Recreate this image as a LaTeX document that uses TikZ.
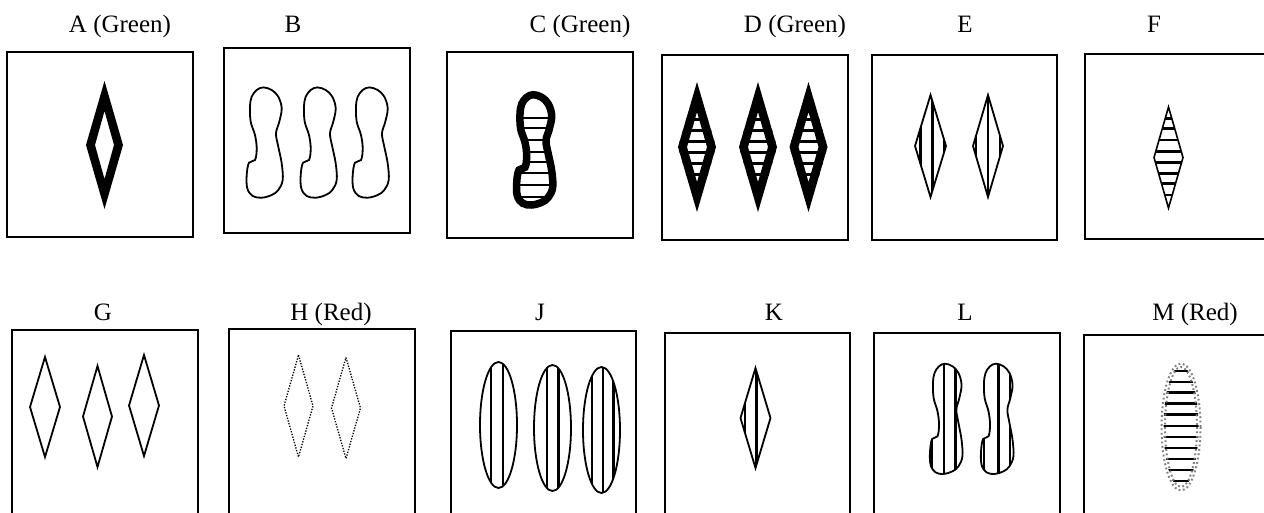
\documentclass[tikz,border=0pt]{standalone}
\usepackage{fontspec}
\setmainfont{Liberation Serif}

% rhombus: centre x, centre y, half width, half height
\newcommand{\rhombpath}[4]{({#1},{(#2)-(#4)}) -- ({(#1)+(#3)},{#2}) -- ({#1},{(#2)+(#4)}) -- ({(#1)-(#3)},{#2}) -- cycle}
% peanut-shaped cell outline, centred on the origin
\newcommand{\cellpts}{(-1.7,-55.3) (6.7,-52.7) (13.3,-46) (16.7,-34.3) (14.3,-21) (11,-9.3) (13.3,4) (16.7,20.7) (17.7,37.3) (13.3,47.3) (6.7,52.3) (-3.3,55) (-12.3,53.3) (-17.7,45.7) (-18.3,32.3) (-16,20) (-10,17.3) (-8.3,5.7) (-10,-7.7) (-14.3,-21) (-15,-36) (-13.3,-46) (-8.3,-52.7)}
\newcommand{\celldraw}[1]{\draw[#1] plot[smooth cycle, tension=0.6] coordinates {\cellpts};}
\newcommand{\cellclip}{\clip plot[smooth cycle, tension=0.6] coordinates {\cellpts};}

\begin{document}
\begin{tikzpicture}[x=1pt,y=-1pt,
  panel/.style={draw=black, line width=1.8pt},
  caption/.style={anchor=base, inner sep=0pt, font=\fontsize{25}{30}\selectfont},
  outline/.style={draw=black, line width=1.8pt, line join=miter},
  hatchline/.style={line width=2.2pt},
  dotline/.style={draw=black, line width=1.3pt, dash pattern=on 1.3pt off 1.5pt},
  graydots/.style={draw=black!50, line width=2pt, dash pattern=on 1.8pt off 2.6pt},
]
\useasboundingbox (0,0) rectangle (1264,512);
\clip (0,0) rectangle (1264,512);
\fill[white] (0,0) rectangle (1264,512);

% ---------------- captions ----------------
\node[caption] (capA) at (120,32) {A (Green)};
\node[caption] (capB) at (293,32) {B};
\node[caption] (capC) at (580,32) {C (Green)};
\node[caption] (capD) at (795,32) {D (Green)};
\node[caption] (capE) at (965,32) {E};
\node[caption] (capF) at (1154,32) {F};
\node[caption] (capG) at (103,320) {G};
\node[caption] (capH) at (331,320) {H (Red)};
\node[caption] (capJ) at (540,320) {J};
\node[caption] (capK) at (774,320) {K};
\node[caption] (capL) at (965,320) {L};
\node[caption] (capM) at (1195,320) {M (Red)};

% ---------------- panels ----------------
\draw[panel] (7,52) rectangle (193,237);
\draw[panel] (224,48) rectangle (410,233);
\draw[panel] (447,52) rectangle (633,238);
\draw[panel] (662,55) rectangle (848,240);
\draw[panel] (872,55) rectangle (1057,240);
\draw[panel] (1085,54) rectangle (1271,239);
\draw[panel] (12,330) rectangle (198,530);
\draw[panel] (229,329) rectangle (415,530);
\draw[panel] (451,331) rectangle (636,530);
\draw[panel] (665,333) rectangle (850,530);
\draw[panel] (874,333) rectangle (1060,530);
\draw[panel] (1084,335) rectangle (1270,530);

% ---------------- A: thick hollow rhombus ----------------
\fill[black, even odd rule] \rhombpath{104.5}{145}{18.5}{64} \rhombpath{104.5}{145}{9.5}{34};

% ---------------- B: three cells ----------------
\foreach \cx in {265,319,371} {
  \begin{scope}[shift={(\cx,142.7)}]
    \celldraw{line width=1.8pt}
  \end{scope}
}

% ---------------- C: thick cell with cross bars ----------------
\begin{scope}[shift={(535,150)}]
  \begin{scope}
    \cellclip
    \foreach \yy in {-31.7,-21.7,-10,1.7,11.7,23.3,35,46.7}
      \draw[hatchline] (-25,\yy) -- (25,\yy);
  \end{scope}
  \celldraw{line width=7.5pt}
\end{scope}

% ---------------- D: three thick rhombi with cross bars ----------------
\foreach \cx in {697,758,808.5} {
  \begin{scope}
    \clip \rhombpath{\cx}{147}{19}{65};
    \foreach \yy in {-27.5,-16.5,-5.5,5.5,16.5,27.5}
      \draw[hatchline] ({\cx-20},{147+\yy}) -- ({\cx+20},{147+\yy});
  \end{scope}
  \fill[black, even odd rule] \rhombpath{\cx}{147}{19}{65} \rhombpath{\cx}{147}{10}{35};
}

% ---------------- E: two rhombi with vertical bars ----------------
\begin{scope}
  \clip \rhombpath{930.5}{146}{15.5}{51};
  \foreach \xx in {920.7,932.3,943.9}
    \draw[line width=2.6pt] (\xx,90) -- (\xx,200);
\end{scope}
\draw[outline] \rhombpath{930.5}{146}{15.5}{51};
\begin{scope}
  \clip \rhombpath{988}{146}{15}{51};
  \foreach \xx in {976,988,1000}
    \draw[line width=2.6pt] (\xx,90) -- (\xx,200);
\end{scope}
\draw[outline] \rhombpath{988}{146}{15}{51};

% ---------------- F: rhombus with cross bars ----------------
\begin{scope}
  \clip \rhombpath{1168.5}{157.5}{14.5}{50.5};
  \foreach \yy in {118.3,128.3,140,151.7,162.3,173.3,183.3,195}
    \draw[line width=2.6pt] (1150,\yy) -- (1190,\yy);
\end{scope}
\draw[outline, line width=1.6pt] \rhombpath{1168.5}{157.5}{14.5}{50.5};

% ---------------- G: three plain rhombi ----------------
\draw[outline] \rhombpath{45}{407}{15}{50};
\draw[outline] \rhombpath{97.5}{416.5}{14.5}{50.5};
\draw[outline] \rhombpath{144}{405.5}{15}{50.5};

% ---------------- H: two dotted rhombi ----------------
\draw[dotline] \rhombpath{298.5}{406}{14.5}{51};
\draw[dotline] \rhombpath{346}{408}{14.5}{50.5};

% ---------------- J: three ovals with vertical bars ----------------
\begin{scope}
  \clip (498.5,425) ellipse [x radius=18.5, y radius=63];
  \foreach \xx in {491,503}
    \draw[line width=2.4pt] (\xx,355) -- (\xx,495);
\end{scope}
\draw[outline] (498.5,425) ellipse [x radius=18.5, y radius=63];
\begin{scope}
  \clip (552.5,428) ellipse [x radius=18.5, y radius=63];
  \foreach \xx in {546.7,558.3}
    \draw[line width=2.4pt] (\xx,355) -- (\xx,495);
\end{scope}
\draw[outline] (552.5,428) ellipse [x radius=18.5, y radius=63];
\begin{scope}
  \clip (601.5,430) ellipse [x radius=18.5, y radius=63];
  \foreach \xx in {591.7,602.7,613.3}
    \draw[line width=2.4pt] (\xx,355) -- (\xx,500);
\end{scope}
\draw[outline] (601.5,430) ellipse [x radius=18.5, y radius=63];

% ---------------- K: rhombus with vertical bars ----------------
\begin{scope}
  \clip \rhombpath{755.5}{418}{15}{50};
  \foreach \xx in {745,756.5}
    \draw[line width=2.6pt] (\xx,360) -- (\xx,475);
\end{scope}
\draw[outline] \rhombpath{755.5}{418}{15}{50};

% ---------------- L: two cells with vertical bars ----------------
\begin{scope}[shift={(946.5,419)}, xscale=0.9]
  \begin{scope}
    \cellclip
    \foreach \xx in {-16,-3,10}
      \draw[line width=2.4pt] (\xx,-60) -- (\xx,60);
  \end{scope}
  \celldraw{line width=1.8pt}
\end{scope}
\begin{scope}[shift={(997.5,419)}, xscale=0.9]
  \begin{scope}
    \cellclip
    \foreach \xx in {-15,0.9,14}
      \draw[line width=2.4pt] (\xx,-60) -- (\xx,60);
  \end{scope}
  \celldraw{line width=1.8pt}
\end{scope}

% ---------------- M: dotted oval with cross bars ----------------
\begin{scope}
  \clip (1181,427) ellipse [x radius=17.5, y radius=61];
  \foreach \yy in {371,382,392.5,403.5,414.5,426,437,448,459,470,481}
    \draw[line width=2.8pt] (1160,\yy) -- (1202,\yy);
\end{scope}
\draw[graydots] (1181,427) ellipse [x radius=19.5, y radius=63.5];
\draw[graydots] (1181,427) ellipse [x radius=16, y radius=60];

\end{tikzpicture}
\end{document}
